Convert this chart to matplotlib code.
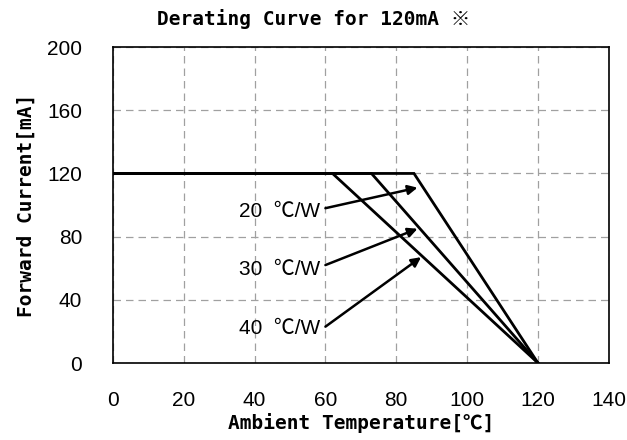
import matplotlib
matplotlib.use("Agg")
import matplotlib.pyplot as plt

# data
temp_max = 120
current_max = 120
knee_temps = [85, 73, 62]          # start of derating for 20/30/40 C/W
rth_labels = ["20  ℃/W", "30  ℃/W", "40  ℃/W"]
label_pos = [(58.5, 96), (58.5, 59), (58.5, 22)]
arrow_tips = [(86, 111), (86, 85), (87, 67)]
arrow_tails = [(60, 98), (60, 62), (60, 23)]

x_ticks = [0, 20, 40, 60, 80, 100, 120, 140]
y_ticks = [0, 40, 80, 120, 160, 200]

mono = ["DejaVu Sans Mono", "Noto Sans CJK KR", "DejaVu Sans"]
narrow = ["Liberation Sans Narrow", "Liberation Sans", "Noto Sans CJK KR", "DejaVu Sans"]

fig = plt.figure(figsize=(6.27, 4.40), dpi=100)
ax = fig.add_axes([0.180, 0.175, 0.791, 0.718])

for knee in knee_temps:
    ax.plot([0, knee, temp_max], [current_max, current_max, 0],
            color="black", lw=2, solid_joinstyle="miter", zorder=3)

for txt, pos, tip, tail in zip(rth_labels, label_pos, arrow_tips, arrow_tails):
    ax.text(pos[0], pos[1], txt, ha="right", va="center",
            fontsize=15, family=narrow)
    ax.annotate("", xy=tip, xytext=tail,
                arrowprops=dict(arrowstyle="-|>", color="black", lw=1.8,
                                mutation_scale=14, shrinkA=0, shrinkB=0))

ax.set_xlim(0, 140)
ax.set_ylim(0, 200)
ax.set_xticks(x_ticks)
ax.set_yticks(y_ticks)
ax.grid(True, color="#a0a0a0", ls=(0, (6, 4)), lw=0.9)
ax.tick_params(length=0, labelsize=15)
ax.tick_params(axis="x", pad=20)
ax.tick_params(axis="y", pad=22)
for lab in ax.get_xticklabels() + ax.get_yticklabels():
    lab.set_family(narrow)
for sp in ax.spines.values():
    sp.set_linewidth(1.2)

ax.set_xlabel("Ambient Temperature[℃]", family=mono, fontsize=14,
              fontweight="bold", labelpad=2)
ax.set_ylabel("Forward Current[mA]", family=mono, fontsize=14,
              fontweight="bold", labelpad=8)
fig.text(0.5, 0.957, "Derating Curve for 120mA ※", ha="center", va="center",
         family=mono, fontsize=14, fontweight="bold")

fig.savefig("out.png", dpi=100)
